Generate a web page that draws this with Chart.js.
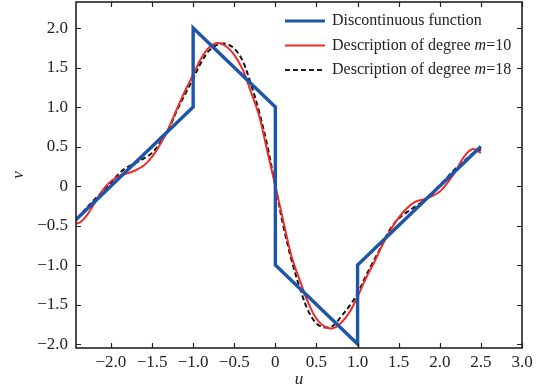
<!DOCTYPE html>
<html>
<head>
<meta charset="utf-8">
<script src="https://cdn.jsdelivr.net/npm/chart.js@4"></script>
<style>
  html, body { margin: 0; padding: 0; background: #fff; }
  #wrap { width: 542px; height: 392px; }
</style>
</head>
<body>
<div id="wrap"><canvas id="c"></canvas></div>
<script>
// discontinuous function corners
var blueU = [-2.5, -1, -1, 0, 0, 1, 1, 2.5];
var blueV = [-0.5, 1, 2, 1, -1, -2, -1, 0.5];

// sample positions for the two descriptions
var uVals = [-2.5,-2.4,-2.3,-2.2,-2.1,-2.0,-1.9,-1.8,-1.7,-1.6,-1.5,-1.4,-1.3,-1.2,-1.1,-1.0,-0.9,-0.8,-0.7,-0.6,-0.5,-0.4,-0.3,-0.2,-0.1,
             0,0.1,0.2,0.3,0.4,0.5,0.6,0.7,0.8,0.9,1.0,1.1,1.2,1.3,1.4,1.5,1.6,1.7,1.8,1.9,2.0,2.1,2.2,2.3,2.4,2.5];
var redVals = [-0.43,-0.47,-0.38,-0.22,-0.05,0.06,0.13,0.16,0.20,0.26,0.37,0.53,0.73,0.97,1.20,1.41,1.62,1.76,1.81,1.77,1.66,1.48,1.20,0.90,0.45,
               0,-0.46,-0.90,-1.20,-1.48,-1.68,-1.78,-1.80,-1.73,-1.60,-1.40,-1.17,-0.97,-0.75,-0.56,-0.40,-0.28,-0.20,-0.17,-0.13,-0.07,0.05,0.20,0.38,0.47,0.42];
var blackVals = [-0.46,-0.40,-0.28,-0.17,-0.07,0.04,0.16,0.24,0.29,0.35,0.42,0.55,0.72,0.95,1.16,1.36,1.57,1.72,1.79,1.80,1.74,1.59,1.30,0.95,0.52,
                 0,-0.52,-0.95,-1.30,-1.58,-1.74,-1.79,-1.77,-1.65,-1.52,-1.36,-1.14,-0.94,-0.74,-0.54,-0.41,-0.33,-0.26,-0.19,-0.10,0.01,0.12,0.23,0.32,0.41,0.46];

var xTicks = [-2.0,-1.5,-1.0,-0.5,0,0.5,1.0,1.5,2.0,2.5,3.0];
var yTicks = [-2.0,-1.5,-1.0,-0.5,0,0.5,1.0,1.5,2.0];

var legendItems = [
  {pre: 'Discontinuous function', m: '', post: '', color: '#1f55a8', dash: [], width: 3},
  {pre: 'Description of degree ', m: 'm', post: '=10', color: '#ee2a2a', dash: [], width: 2},
  {pre: 'Description of degree ', m: 'm', post: '=18', color: '#222', dash: [5, 3], width: 2}
];

var SERIF = '"Liberation Serif", "Times New Roman", serif';

function pts(xs, ys){
  return xs.map(function(x, i){ return {x: x, y: ys[i]}; });
}
function fmt(v){
  if(v === 0) return '0';
  return v.toFixed(1).replace('-', '\u2212');
}

// frame, inward ticks and legend
var decor = {
  id: 'decor',
  afterDraw: function(chart){
    var c = chart.ctx, a = chart.chartArea;
    var xs = chart.scales.x, ys = chart.scales.y;
    c.save();
    c.strokeStyle = '#222';
    c.lineWidth = 1.6;
    c.strokeRect(a.left, a.top, a.right - a.left, a.bottom - a.top);
    c.lineWidth = 1.2;
    c.beginPath();
    xTicks.forEach(function(v){
      var p = Math.round(xs.getPixelForValue(v)) + 0.5;
      c.moveTo(p, a.bottom); c.lineTo(p, a.bottom - 5);
      c.moveTo(p, a.top); c.lineTo(p, a.top + 5);
    });
    yTicks.forEach(function(v){
      var p = Math.round(ys.getPixelForValue(v)) + 0.5;
      c.moveTo(a.left, p); c.lineTo(a.left + 5, p);
      c.moveTo(a.right, p); c.lineTo(a.right - 5, p);
    });
    c.stroke();

    // legend
    c.textBaseline = 'middle';
    legendItems.forEach(function(it, i){
      var y = 21 + i * 24.5;
      c.strokeStyle = it.color;
      c.lineWidth = it.width;
      c.setLineDash(it.dash);
      c.beginPath(); c.moveTo(285, y); c.lineTo(325, y); c.stroke();
      c.setLineDash([]);
      c.fillStyle = '#222';
      var x = 332;
      c.font = '16px ' + SERIF;
      c.fillText(it.pre, x, y);
      x += c.measureText(it.pre).width;
      if(it.m){
        c.font = 'italic 16px ' + SERIF;
        c.fillText(it.m, x, y);
        x += c.measureText(it.m).width;
        c.font = '16px ' + SERIF;
        c.fillText(it.post, x, y);
      }
    });
    c.restore();
  }
};

new Chart(document.getElementById('c'), {
  type: 'line',
  data: {
    datasets: [
      {label: 'Discontinuous function', data: pts(blueU, blueV), borderColor: '#1f55a8', borderWidth: 3.4, pointRadius: 0, tension: 0},
      {label: 'Description of degree m=10', data: pts(uVals, redVals), borderColor: '#ee2a2a', borderWidth: 2, pointRadius: 0, tension: 0.35},
      {label: 'Description of degree m=18', data: pts(uVals, blackVals), borderColor: '#111', borderWidth: 2, borderDash: [5, 3], pointRadius: 0, tension: 0.35}
    ]
  },
  options: {
    responsive: true,
    maintainAspectRatio: false,
    animation: false,
    layout: {padding: {left: 0, right: 20, top: 2, bottom: 0}},
    plugins: {legend: {display: false}, tooltip: {enabled: false}},
    scales: {
      x: {
        type: 'linear', min: -2.425, max: 3.0,
        afterBuildTicks: function(s){ s.ticks = xTicks.map(function(v){ return {value: v}; }); },
        afterFit: function(s){ s.height = 44; s.paddingLeft = 0; s.paddingRight = 0; },
        grid: {display: false, drawTicks: false},
        border: {display: false},
        ticks: {padding: 4, color: '#222', maxRotation: 0, autoSkip: false,
                font: {family: SERIF, size: 17}, callback: function(v){ return fmt(v); }},
        title: {display: true, text: 'u', color: '#222', padding: {top: 0, bottom: 2},
                font: {family: SERIF, size: 17, style: 'italic'}}
      },
      y: {
        type: 'linear', min: -2.05, max: 2.33,
        afterBuildTicks: function(s){ s.ticks = yTicks.map(function(v){ return {value: v}; }); },
        afterFit: function(s){ s.width = 76; s.paddingTop = 0; s.paddingBottom = 0; },
        grid: {display: false, drawTicks: false},
        border: {display: false},
        ticks: {padding: 8, color: '#222', autoSkip: false,
                font: {family: SERIF, size: 17}, callback: function(v){ return fmt(v); }},
        title: {display: true, text: 'v', color: '#222', padding: {top: 8, bottom: 0},
                font: {family: SERIF, size: 17, style: 'italic'}}
      }
    }
  },
  plugins: [decor]
});
</script>
</body>
</html>
